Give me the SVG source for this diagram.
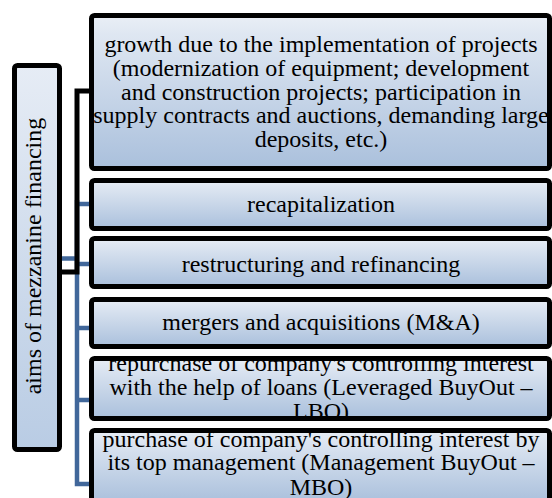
<svg xmlns="http://www.w3.org/2000/svg" width="552" height="498" viewBox="0 0 552 498">
  <defs>
    <linearGradient id="boxFill" x1="0" y1="0" x2="0" y2="1">
      <stop offset="0" stop-color="#eaeff6"/>
      <stop offset="0.12" stop-color="#dfe7f2"/>
      <stop offset="1" stop-color="#aac0dc"/>
    </linearGradient>
    <linearGradient id="sideFill" x1="0" y1="0" x2="0" y2="1">
      <stop offset="0" stop-color="#e6ecf5"/>
      <stop offset="1" stop-color="#b9cce4"/>
    </linearGradient>
    <clipPath id="clip5"><rect x="94" y="361" width="453" height="55"/></clipPath>
    <clipPath id="clip6"><rect x="94" y="433" width="453" height="65"/></clipPath>
  </defs>
  <style>
    .box { fill: url(#boxFill); stroke: #000; stroke-width: 5; }
    .side { fill: url(#sideFill); stroke: #000; stroke-width: 5; }
    .lbl { font-family: "Liberation Serif", "Times New Roman", serif; font-size: 24px; fill: #000; text-anchor: middle; }
    .blue { fill: none; stroke: #41679a; stroke-width: 4.5; }
  </style>
  <rect width="552" height="498" fill="#fff"/>

  <!-- connectors -->
  <g id="connectors">
    <path class="blue" d="M60,258.5 H77" stroke-width="7"/>
    <path class="blue" d="M77,200 V484 H92"/>
    <path class="blue" d="M77,204 H92 M77,264 H92 M77,328 H92 M77,400 H92"/>
    <path d="M92,91 H77 V272 H60" fill="none" stroke="#000" stroke-width="5"/>
  </g>

  <g id="root">
    <rect class="side" x="14.5" y="65.5" width="45" height="384" rx="3"/>
    <text class="lbl" transform="translate(41,256) rotate(-90)">aims of mezzanine financing</text>
  </g>

  <g id="growth">
    <rect class="box" x="91.5" y="15.5" width="458" height="153" rx="3"/>
    <text class="lbl" x="321" y="52">growth due to the implementation of projects</text>
    <text class="lbl" x="321" y="76">(modernization of equipment; development</text>
    <text class="lbl" x="321" y="100">and construction projects; participation in</text>
    <text class="lbl" x="321" y="123">supply contracts and auctions, demanding large</text>
    <text class="lbl" x="321" y="147">deposits, etc.)</text>
  </g>

  <g id="recapitalization">
    <rect class="box" x="91.5" y="180.5" width="458" height="48" rx="3"/>
    <text class="lbl" x="321" y="212">recapitalization</text>
  </g>

  <g id="restructuring">
    <rect class="box" x="91.5" y="238.5" width="458" height="48" rx="3"/>
    <text class="lbl" x="321" y="272">restructuring and refinancing</text>
  </g>

  <g id="mergers">
    <rect class="box" x="91.5" y="299.5" width="458" height="47" rx="3"/>
    <text class="lbl" x="321" y="330">mergers and acquisitions (M&amp;A)</text>
  </g>

  <g id="lbo">
    <rect class="box" x="91.5" y="358.5" width="458" height="60" rx="3"/>
    <g clip-path="url(#clip5)">
      <text class="lbl" x="321" y="371">repurchase of company's controlling interest</text>
      <text class="lbl" x="321" y="395">with the help of loans (Leveraged BuyOut –</text>
      <text class="lbl" x="321" y="419">LBO)</text>
    </g>
  </g>

  <g id="mbo">
    <rect class="box" x="91.5" y="430.5" width="458" height="72" rx="3"/>
    <g clip-path="url(#clip6)">
      <text class="lbl" x="321" y="447">purchase of company's controlling interest by</text>
      <text class="lbl" x="321" y="470">its top management (Management BuyOut –</text>
      <text class="lbl" x="321" y="495">MBO)</text>
    </g>
  </g>
</svg>
